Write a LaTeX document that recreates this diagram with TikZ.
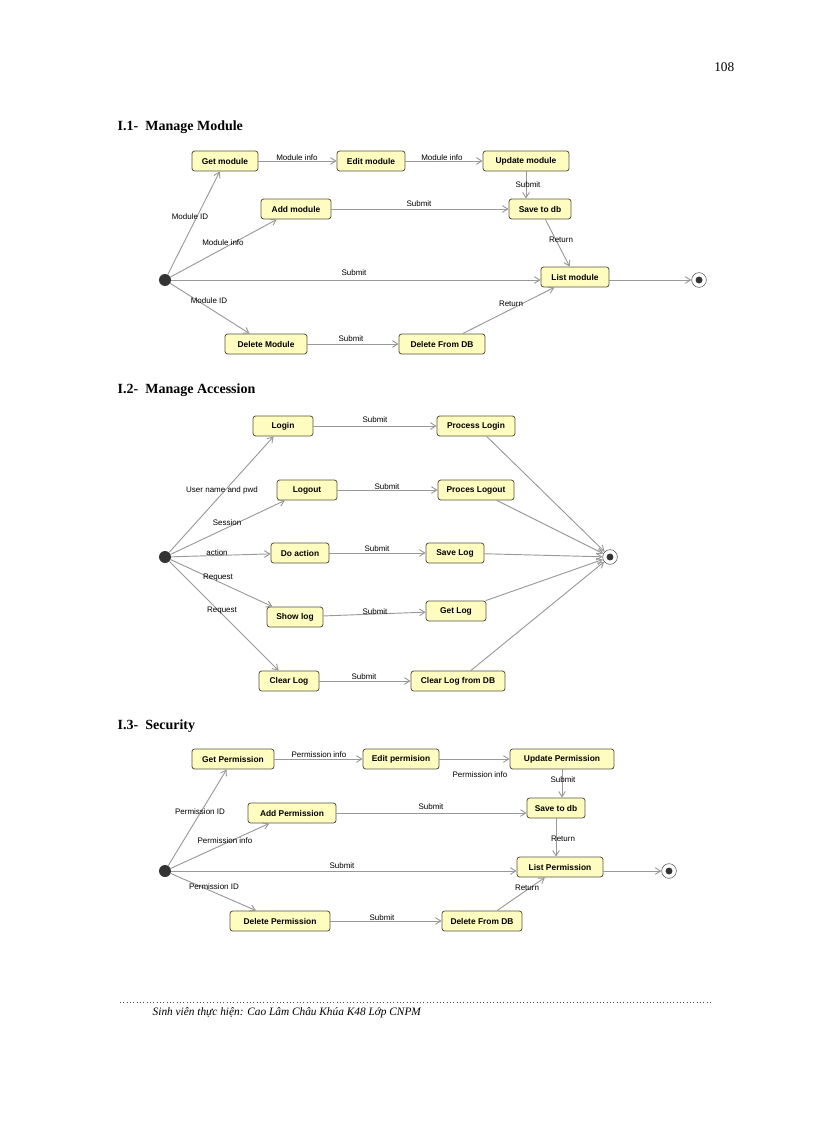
\documentclass[tikz,border=0pt]{standalone}
\usepackage{fontspec}
\setmainfont{Liberation Serif}
\newfontfamily\sansf{Liberation Sans}
\usetikzlibrary{arrows.meta}
\begin{document}
\begin{tikzpicture}[x=0.75pt,y=-0.75pt,
 st/.style={draw=black!60!yellow!60!black,fill=yellow!25,rounded corners=2pt,line width=0.6pt,font=\sansf\fontsize{6.3}{7}\selectfont\bfseries,minimum height=15pt,inner sep=1pt,minimum width=#1*0.75pt},
 st/.default=60,
 lb/.style={font=\sansf\fontsize{6}{7}\selectfont,inner sep=0pt},
 ar/.style={draw=gray!80,line width=0.7pt,-{Straight Barb[length=4pt,width=5pt]}},
 ini/.style={circle,fill=black!80,minimum size=9pt,inner sep=0pt},
 fin/.style={circle,draw=black!70,fill=white,minimum size=11pt,inner sep=0pt,path picture={\fill[black!80] (path picture bounding box.center) circle (2.6pt);}},
 hd/.style={font=\bfseries\fontsize{10.5}{12}\selectfont,anchor=west}]
\useasboundingbox (0,0) rectangle (816,1123);
\node[anchor=east,font=\fontsize{10}{12}\selectfont] (pg) at (739,67) {108};
% ---------- I.1
\node[hd] (h1) at (113,127) {I.1-\ \ Manage Module};
\node[ini] (s1) at (165,280) {};
\node[fin] (e1) at (699,280) {};
\node[st=66] (a1) at (225,161) {Get module};
\node[st=68] (b1) at (371,161) {Edit module};
\node[st=86] (c1) at (526,161) {Update module};
\node[st=70] (d1) at (296,209) {Add module};
\node[st=62] (f1) at (540,209) {Save to db};
\node[st=68] (g1) at (575,277) {List module};
\node[st=82] (h1n) at (266,344) {Delete Module};
\node[st=86] (i1) at (442,344) {Delete From DB};
\draw[ar] (s1) -- (a1);
\draw[ar] (s1) -- (d1);
\draw[ar] (s1) -- (g1.west|-s1);
\draw[ar] (s1) -- (h1n);
\draw[ar] (a1) -- (b1);
\draw[ar] (b1) -- (c1);
\draw[ar] (c1) -- (c1|-f1.north);
\draw[ar] (d1) -- (f1);
\draw[ar] (f1) -- (g1);
\draw[ar] (h1n) -- (i1);
\draw[ar] (i1) -- (g1);
\draw[ar] (g1.east|-e1) -- (e1);
\node[lb] (l11) at (297,158) {Module info};
\node[lb] (l12) at (442,158) {Module info};
\node[lb] (l13) at (528,185) {Submit};
\node[lb] (l14) at (190,217) {Module ID};
\node[lb] (l15) at (223,243) {Module info};
\node[lb] (l16) at (419,204) {Submit};
\node[lb] (l17) at (561,240) {Return};
\node[lb] (l18) at (354,273) {Submit};
\node[lb] (l19) at (209,301) {Module ID};
\node[lb] (l110) at (511,304) {Return};
\node[lb] (l111) at (351,339) {Submit};
% ---------- I.2
\node[hd] (h2) at (113,390) {I.2-\ \ Manage Accession};
\node[ini] (s2) at (165,557) {};
\node[fin] (e2) at (610,557) {};
\node[st=60] (a2) at (283,426) {Login};
\node[st=78] (b2) at (476,426) {Process Login};
\node[st=60] (c2) at (307,490) {Logout};
\node[st=76] (d2) at (476,490) {Proces Logout};
\node[st=58] (f2) at (300,553) {Do action};
\node[st=58] (g2) at (455,553) {Save Log};
\node[st=56] (h2n) at (295,617) {Show log};
\node[st=60] (i2) at (456,611) {Get Log};
\node[st=60] (j2) at (289,681) {Clear Log};
\node[st=94] (k2) at (458,681) {Clear Log from DB};
\draw[ar] (s2) -- (a2);
\draw[ar] (s2) -- (c2);
\draw[ar] (s2) -- (f2);
\draw[ar] (s2) -- (h2n);
\draw[ar] (s2) -- (j2);
\draw[ar] (a2) -- (b2);
\draw[ar] (c2) -- (d2);
\draw[ar] (f2) -- (g2);
\draw[ar] (h2n) -- (i2);
\draw[ar] (j2) -- (k2);
\draw[ar] (b2) -- (e2);
\draw[ar] (d2) -- (e2);
\draw[ar] (g2) -- (e2);
\draw[ar] (i2) -- (e2);
\draw[ar] (k2) -- (e2);
\node[lb] (l21) at (375,420) {Submit};
\node[lb] (l22) at (222,490) {User name and pwd};
\node[lb] (l23) at (387,487) {Submit};
\node[lb] (l24) at (227,523) {Session};
\node[lb] (l25) at (217,553) {action};
\node[lb] (l26) at (377,549) {Submit};
\node[lb] (l27) at (218,578) {Request};
\node[lb] (l28) at (375,612) {Submit};
\node[lb] (l29) at (222,611) {Request};
\node[lb] (l210) at (364,677) {Submit};
% ---------- I.3
\node[hd] (h3) at (113,726) {I.3-\ \ Security};
\node[ini] (s3) at (165,871) {};
\node[fin] (e3) at (669,871) {};
\node[st=82] (a3) at (233,759) {Get Permission};
\node[st=76] (b3) at (401,759) {Edit permision};
\node[st=104] (c3) at (562,759) {Update Permission};
\node[st=88] (d3) at (292,813) {Add Permission};
\node[st=58] (f3) at (556,808) {Save to db};
\node[st=86] (g3) at (560,867) {List Permission};
\node[st=100] (h3n) at (280,921) {Delete Permission};
\node[st=80] (i3) at (482,921) {Delete From DB};
\draw[ar] (s3) -- (a3);
\draw[ar] (s3) -- (d3);
\draw[ar] (s3) -- (g3.west|-s3);
\draw[ar] (s3) -- (h3n);
\draw[ar] (a3) -- (b3);
\draw[ar] (b3) -- (c3);
\draw[ar] (c3) -- (c3|-f3.north);
\draw[ar] (d3) -- (f3.west|-d3);
\draw[ar] (f3) -- (f3|-g3.north);
\draw[ar] (h3n) -- (i3);
\draw[ar] (i3) -- (g3);
\draw[ar] (g3.east|-e3) -- (e3);
\node[lb] (l31) at (319,755) {Permission info};
\node[lb] (l32) at (480,775) {Permission info};
\node[lb] (l33) at (563,780) {Submit};
\node[lb] (l34) at (200,812) {Permission ID};
\node[lb] (l35) at (431,807) {Submit};
\node[lb] (l36) at (225,841) {Permission info};
\node[lb] (l37) at (563,839) {Return};
\node[lb] (l38) at (342,866) {Submit};
\node[lb] (l39) at (214,887) {Permission ID};
\node[lb] (l310) at (527,888) {Return};
\node[lb] (l311) at (382,918) {Submit};
% ---------- footer
\coordinate (fa) at (120,1002);
\coordinate (fb) at (712,1002);
\draw[black!70,line width=0.5pt,dotted] (fa) -- (fb);
\node[anchor=west,font=\itshape\fontsize{8.5}{10}\selectfont] (ft) at (148,1013) {Sinh viên thực hiện: Cao Lâm Châu Khúa K48 Lớp CNPM};
\end{tikzpicture}
\end{document}
